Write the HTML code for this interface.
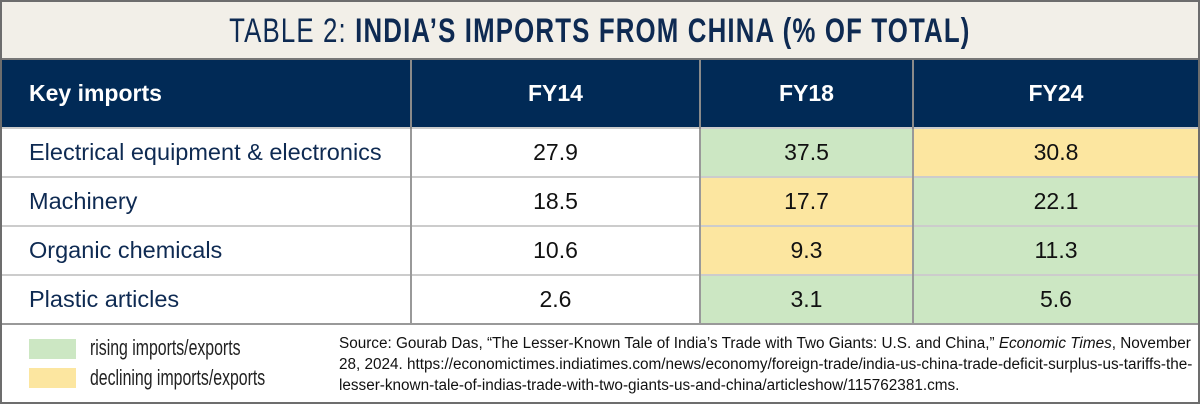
<!DOCTYPE html>
<html><head><meta charset="utf-8"><style>
*{margin:0;padding:0;box-sizing:border-box}
body{width:1200px;height:404px;background:#fff;font-family:"Liberation Sans",sans-serif;overflow:hidden}
#wrap{position:absolute;left:0;top:0;width:1200px;height:404px;border:2px solid #6d6d6d;background:#fff}
#title{position:absolute;left:0;top:0;width:1196px;height:58px;background:#f2efe8;border-bottom:2px solid #777;text-align:center;line-height:58px;color:#0e2a52;font-size:34px;letter-spacing:1.5px}
#title span{display:inline-block;transform:scaleX(0.76);transform-origin:center;white-space:nowrap}
#title b{font-weight:bold}
table{position:absolute;left:0;top:58px;border-collapse:collapse;width:1196px}
th{background:#012a56;color:#fff;font-size:23px;height:68px;font-weight:bold;border-left:2px solid #8a8a8a}
th:first-child{text-align:left;padding-left:27px;border-left:none}
td{height:49px;font-size:23px;text-align:center;color:#111;border-left:2px solid #999;border-top:2px solid #ccc}
td:first-child{text-align:left;padding-left:27px;color:#0e2a52;border-left:none;font-size:23.5px}
.g{background:#cce7c3}.y{background:#fce6a0}
tr:last-child td{border-bottom:2px solid #999}
.leg{position:absolute;left:27px;width:47px;height:20px}
.lt{position:absolute;left:88px;font-size:22px;color:#222;transform:scaleX(0.72);transform-origin:left;white-space:nowrap}
#src{position:absolute;left:337px;top:331px;width:860px;font-size:15.3px;line-height:21px;color:#111}
</style></head><body>
<div id="wrap">
<div id="title"><span>TABLE 2: <b>INDIA’S IMPORTS FROM CHINA (% OF TOTAL)</b></span></div>
<table>
<colgroup><col style="width:409px"><col style="width:289px"><col style="width:213px"><col style="width:285px"></colgroup>
<tr><th>Key imports</th><th>FY14</th><th>FY18</th><th>FY24</th></tr>
<tr><td>Electrical equipment &amp; electronics</td><td>27.9</td><td class="g">37.5</td><td class="y">30.8</td></tr>
<tr><td>Machinery</td><td>18.5</td><td class="y">17.7</td><td class="g">22.1</td></tr>
<tr><td>Organic chemicals</td><td>10.6</td><td class="y">9.3</td><td class="g">11.3</td></tr>
<tr><td>Plastic articles</td><td>2.6</td><td class="g">3.1</td><td class="g">5.6</td></tr>
</table>
<div class="leg g" style="top:337px"></div>
<div class="lt" style="top:333px">rising imports/exports</div>
<div class="leg y" style="top:366px"></div>
<div class="lt" style="top:363px">declining imports/exports</div>
<div id="src">Source: Gourab Das, “The Lesser-Known Tale of India’s Trade with Two Giants: U.S. and China,” <i>Economic Times</i>, November 28, 2024. https://economictimes.indiatimes.com/news/economy/foreign-trade/india-us-china-trade-deficit-surplus-us-tariffs-the-lesser-known-tale-of-indias-trade-with-two-giants-us-and-china/articleshow/115762381.cms.</div>
</div>
</body></html>
